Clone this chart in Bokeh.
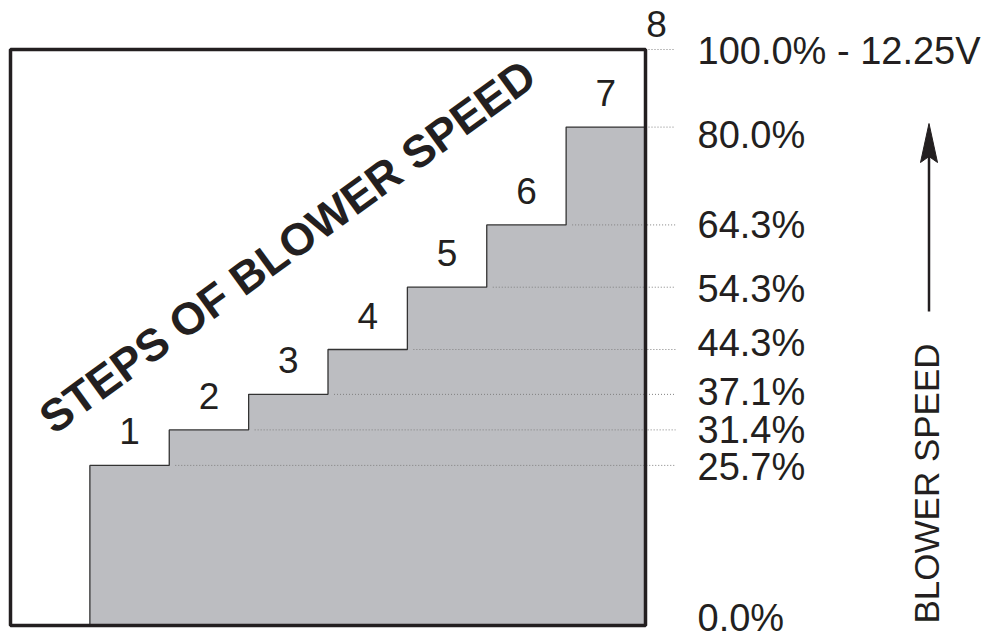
import numpy as np
from bokeh.plotting import figure
from bokeh.models import Range1d, ColumnDataSource
from bokeh.core.properties import value
from bokeh.embed import file_html
from bokeh.resources import INLINE

# ---------------- data ----------------
steps = [1, 2, 3, 4, 5, 6, 7]
levels = [25.7, 31.4, 37.1, 44.3, 54.3, 64.3, 80.0]      # % blower speed per step
top_step = 8
top_label = "100.0% - 12.25V"
zero_level = 0.0
chart_title = "STEPS OF BLOWER SPEED"
axis_title = "BLOWER SPEED"

# ---------------- layout / style ----------------
W, H = 986, 638
X0 = 10              # page x of step 0
Y0 = 625             # page y of 0 %
XS = 79.375          # pixels per step on x
K = 6.23             # pixels per percent on y
BOX_TOP = (Y0 - 49) / K   # frame top (value units)
LABEL_X = (697 - X0) / XS # left edge of the right-hand labels
DOT_END = (675 - X0) / XS # end of dotted leader lines
FONT = value("Liberation Sans")
INK = "#231f20"
FILL = "#bcbdc1"
# small vertical nudges (px, + = down) of right-hand labels relative to their level
label_nudge = [-8, 2, 0, -2, -7, 2, 0, 8]


def px(page_x):
    return (page_x - X0) / XS


def py(page_y):
    return (Y0 - page_y) / K


p = figure(width=W, height=H, output_backend="svg", toolbar_location=None,
           x_axis_type=None, y_axis_type=None,
           x_range=Range1d(px(0), px(W)),
           y_range=Range1d(py(H), py(0)),
           min_border=0, min_border_left=0, min_border_right=0,
           min_border_top=0, min_border_bottom=0)
p.outline_line_color = None
p.background_fill_color = "white"
p.border_fill_color = "white"

# staircase built from data
edges = steps + [top_step]
sx = [steps[0]]
sy = [zero_level]
for i, lv in enumerate(levels):
    sx += [edges[i], edges[i + 1]]
    sy += [lv, lv]
p.patch(sx + [edges[-1]], sy + [zero_level], fill_color=FILL, line_color=None)

# dotted leader lines
dx0, dx1, dy = [], [], []
for i, lv in enumerate(levels):
    start = edges[i + 1] + (6 / XS if i < len(levels) - 1 else 0)
    dx0.append(start); dx1.append(DOT_END); dy.append(lv)
dx0.append(top_step); dx1.append(DOT_END); dy.append(BOX_TOP)
p.segment(x0=dx0, y0=dy, x1=dx1, y1=dy, line_color="#808080",
          line_width=1, line_dash="1 2")

# step outline
p.line(sx, sy, line_color="#333333", line_width=1.3)

# frame box
p.quad(left=[0], right=[top_step], bottom=[zero_level], top=[BOX_TOP],
       fill_color=None, line_color=INK, line_width=3.5)

# step numbers
p.text(x=[s + 0.5 for s in steps], y=[lv + 34 / K for lv in levels],
       text=[str(s) for s in steps], text_font=FONT, text_font_size="37px",
       text_align="center", text_baseline="middle", text_color=INK)
p.text(x=[top_step + 0.14], y=[BOX_TOP + 26 / K], text=[str(top_step)],
       text_font=FONT, text_font_size="37px", text_align="center",
       text_baseline="middle", text_color=INK)

# right-hand level labels
vals = [zero_level] + levels
lab_src = ColumnDataSource(dict(
    x=[LABEL_X] * (len(vals) + 1),
    y=[v - n / K for v, n in zip(vals, label_nudge)] + [BOX_TOP - 1 / K],
    t=[f"{v:.1f}%" for v in vals] + [top_label]))
p.text(x="x", y="y", text="t", source=lab_src, text_font=FONT,
       text_font_size="38px", text_align="left", text_baseline="middle",
       text_color=INK)

# diagonal title
p.text(x=[px(287)], y=[py(246)], text=[chart_title],
       angle=36, angle_units="deg", text_font=FONT, text_font_style="bold",
       text_font_size="45px", text_align="center", text_baseline="middle",
       text_color=INK)

# vertical axis title + arrow
ax_x = px(928.5)
p.text(x=[px(925.5)], y=[py(483)], text=[axis_title],
       angle=90, angle_units="deg", text_font=FONT, text_font_size="35px",
       text_align="center", text_baseline="middle", text_color=INK)
p.segment(x0=[ax_x], y0=[py(311)], x1=[ax_x], y1=[py(150)],
          line_color=INK, line_width=2.5)
hw = 8.5 / XS
p.patch([ax_x, ax_x - hw, ax_x, ax_x + hw],
        [py(123), py(162), py(156), py(162)],
        fill_color=INK, line_color=INK, line_width=1)

open("out.html", "w").write(file_html(p, INLINE))
